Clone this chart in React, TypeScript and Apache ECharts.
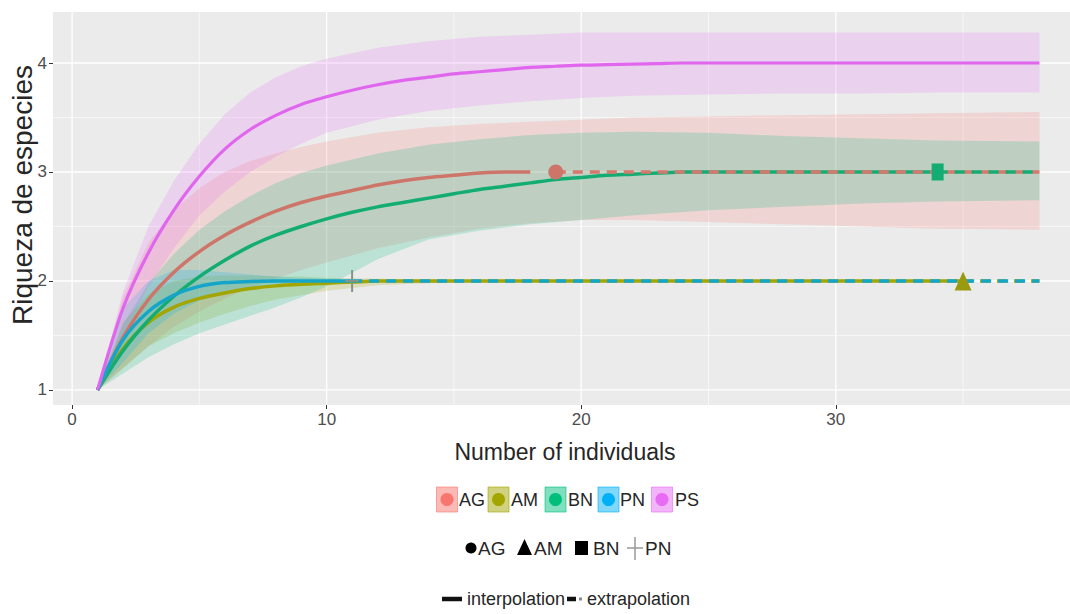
import React, { useEffect, useRef } from "react";
import * as echarts from "echarts";

const FONT = '"Liberation Sans", Arial, Helvetica, sans-serif';

// axes
const X_TICKS = [0, 10, 20, 30];
const Y_TICKS = [1, 2, 3, 4];
const X_MINOR = [5, 15, 25, 35];
const Y_MINOR = [1.5, 2.5, 3.5];

// groups
const GROUPS = ["AG", "AM", "BN", "PN", "PS"];
const FILL_COLORS = ["#F8766D", "#A3A500", "#00BF7D", "#00B0F6", "#E76BF3"];
const LINE_COLORS = ["#CD7569", "#A3A500", "#13AD73", "#14A5C8", "#E066EE"];

// interpolation curves
const AG_X = [1, 2, 3, 4, 5, 6, 7, 8, 9, 10, 11, 12, 13, 14, 15, 16, 17, 18];
const AG_Y = [1, 1.48, 1.83, 2.08, 2.27, 2.42, 2.54, 2.64, 2.72, 2.78, 2.83, 2.88, 2.92, 2.95, 2.97, 2.99, 3.0, 3.0];
const AM_X = [1, 2, 3, 4, 5, 6, 7, 8, 9, 10, 11, 12, 35];
const AM_Y = [1, 1.38, 1.62, 1.76, 1.84, 1.89, 1.93, 1.955, 1.97, 1.98, 1.99, 2.0, 2.0];
const BN_X = [1, 2, 3, 4, 5, 6, 7, 8, 9, 10, 11, 12, 13, 14, 15, 16, 17, 18, 19, 20, 21, 22, 23, 24, 34];
const BN_Y = [1, 1.36, 1.64, 1.86, 2.04, 2.19, 2.32, 2.42, 2.5, 2.57, 2.63, 2.68, 2.72, 2.76, 2.8, 2.84, 2.87, 2.9, 2.93, 2.95, 2.97, 2.98, 2.99, 3.0, 3.0];
const PN_X = [1, 2, 3, 4, 5, 6, 7, 8, 9, 10, 11];
const PN_Y = [1, 1.46, 1.72, 1.87, 1.95, 1.985, 1.995, 2.0, 2.0, 2.0, 2.0];
const PS_X = [1, 2, 3, 4, 5, 6, 7, 8, 9, 10, 11, 12, 13, 14, 15, 16, 17, 18, 19, 20, 21, 22, 23, 24, 25, 38];
const PS_Y = [1, 1.75, 2.26, 2.65, 2.96, 3.21, 3.39, 3.52, 3.62, 3.69, 3.75, 3.8, 3.84, 3.87, 3.9, 3.92, 3.94, 3.96, 3.97, 3.98, 3.985, 3.99, 3.995, 4.0, 4.0, 4.0];

// extrapolation
const AG_EX = [[19, 3], [38, 3]];
const AM_EX = [[35, 2], [38, 2]];
const BN_EX = [[34, 3], [38, 3]];
const PN_EX = [[11, 2], [38, 2]];

// observed points
const AG_OBS = [19, 3];
const AM_OBS = [35, 2];
const BN_OBS = [34, 3];
const PN_OBS = [11, 2];

// confidence bands
const BAND_X = [1, 2, 3, 4, 5, 6, 7, 8, 9, 10, 12, 14, 16, 18, 20, 22, 25, 28, 31, 34, 38];
const AG_LO = [1, 1.2, 1.4, 1.58, 1.72, 1.84, 1.94, 2.02, 2.1, 2.17, 2.3, 2.4, 2.48, 2.53, 2.56, 2.56, 2.54, 2.52, 2.5, 2.48, 2.47];
const AG_HI = [1, 1.85, 2.35, 2.65, 2.85, 3.0, 3.1, 3.17, 3.23, 3.28, 3.36, 3.41, 3.44, 3.46, 3.48, 3.5, 3.51, 3.52, 3.53, 3.54, 3.55];
const AM_LO = [1, 1.2, 1.4, 1.52, 1.62, 1.7, 1.77, 1.83, 1.87, 1.91, 1.96, 1.98, 1.99, 2.0, 2.0, 2.0, 2.0, 2.0, 2.0, 2.0, 2.0];
const AM_HI = [1, 1.62, 1.88, 2.0, 2.04, 2.05, 2.05, 2.04, 2.04, 2.03, 2.02, 2.01, 2.0, 2.0, 2.0, 2.0, 2.0, 2.0, 2.0, 2.0, 2.0];
const BN_LO = [1, 1.15, 1.3, 1.42, 1.52, 1.6, 1.68, 1.76, 1.85, 1.95, 2.2, 2.38, 2.46, 2.52, 2.56, 2.6, 2.65, 2.68, 2.71, 2.73, 2.74];
const BN_HI = [1, 1.6, 1.98, 2.25, 2.47, 2.64, 2.78, 2.9, 2.99, 3.06, 3.17, 3.25, 3.3, 3.34, 3.36, 3.37, 3.36, 3.33, 3.31, 3.29, 3.28];
const PN_LO = [1, 1.25, 1.52, 1.7, 1.82, 1.9, 1.94, 1.97, 1.98, 1.99, 2.0, 2.0, 2.0, 2.0, 2.0, 2.0, 2.0, 2.0, 2.0, 2.0, 2.0];
const PN_HI = [1, 1.75, 2.0, 2.1, 2.1, 2.08, 2.06, 2.04, 2.03, 2.02, 2.01, 2.0, 2.0, 2.0, 2.0, 2.0, 2.0, 2.0, 2.0, 2.0, 2.0];
const PS_LO = [1, 1.5, 1.95, 2.3, 2.6, 2.82, 3.0, 3.14, 3.26, 3.36, 3.48, 3.56, 3.61, 3.65, 3.68, 3.7, 3.71, 3.72, 3.72, 3.73, 3.73];
const PS_HI = [1, 1.9, 2.5, 2.92, 3.26, 3.53, 3.73, 3.87, 3.97, 4.04, 4.14, 4.2, 4.24, 4.26, 4.28, 4.28, 4.28, 4.28, 4.28, 4.28, 4.28];

function rgba(hex: string, a: number) {
  const n = parseInt(hex.slice(1), 16);
  return `rgba(${(n >> 16) & 255},${(n >> 8) & 255},${n & 255},${a})`;
}

function zip(xs: number[], ys: number[]) {
  return xs.map((x, i) => [x, ys[i]]);
}

function band(lo: number[], hi: number[], color: string) {
  return {
    type: "custom",
    silent: true,
    z: 1,
    data: [[BAND_X[0], lo[0]]],
    renderItem: (_p: any, api: any) => {
      const pts: number[][] = [];
      for (let i = 0; i < BAND_X.length; i++) pts.push(api.coord([BAND_X[i], hi[i]]));
      for (let i = BAND_X.length - 1; i >= 0; i--) pts.push(api.coord([BAND_X[i], lo[i]]));
      return { type: "polygon", shape: { points: pts }, style: { fill: rgba(color, 0.2) } };
    },
  };
}

function gridLines(vals: number[], vertical: boolean, width: number) {
  return {
    type: "custom",
    silent: true,
    z: 0,
    data: vals.map((v) => (vertical ? [v, 1] : [1, v])),
    renderItem: (params: any, api: any) => {
      const cs = params.coordSys;
      const p = api.coord([api.value(0), api.value(1)]);
      const shape = vertical
        ? { x1: p[0], y1: cs.y, x2: p[0], y2: cs.y + cs.height }
        : { x1: cs.x, y1: p[1], x2: cs.x + cs.width, y2: p[1] };
      return { type: "line", shape, style: { stroke: "#FFFFFF", lineWidth: width } };
    },
  };
}

function solid(xs: number[], ys: number[], color: string, width = 3.5) {
  return {
    type: "line",
    data: zip(xs, ys),
    smooth: 0.3,
    showSymbol: false,
    silent: true,
    z: 2,
    lineStyle: { color, width },
  };
}

function dashed(pts: number[][], color: string) {
  return {
    type: "line",
    data: pts,
    showSymbol: false,
    silent: true,
    z: 3,
    lineStyle: { color, width: 3.5, type: [10, 7] },
  };
}

function marker(pt: number[], symbol: string, size: any, color: string) {
  return {
    type: "scatter",
    data: [pt],
    symbol,
    symbolSize: size,
    silent: true,
    z: 4,
    itemStyle: { color, opacity: 1 },
  };
}

function txt(text: string, x: number, y: number, size: number, extra: any = {}) {
  return {
    type: "text",
    x,
    y,
    silent: true,
    ...extra,
    style: {
      text,
      x: 0,
      y: 0,
      font: `${size}px ${FONT}`,
      fill: "#262626",
      align: extra.align || "left",
      textAlign: extra.align || "left",
      verticalAlign: "middle",
      textVerticalAlign: "middle",
    },
  };
}

const KEY_CX = [447, 498.5, 555.5, 608.5, 662];
const KEY_TX = [459, 511, 568, 620, 675];

export default function App() {
  const ref = useRef<HTMLDivElement>(null);
  useEffect(() => {
    document.body.style.margin = "0";
    const chart = echarts.init(ref.current!, null, { renderer: "svg" });
    const graphic: any[] = [];
    // axis titles
    graphic.push(txt("Number of individuals", 565, 452, 23, { align: "center" }));
    graphic.push(txt("Riqueza de especies", 22, 195, 28, { align: "center", rotation: Math.PI / 2 }));
    // legend row 1
    GROUPS.forEach((g, i) => {
      graphic.push({
        type: "rect",
        silent: true,
        shape: { x: KEY_CX[i] - 10.5, y: 487, width: 21, height: 25 },
        style: { fill: rgba(FILL_COLORS[i], 0.5), stroke: rgba(FILL_COLORS[i], 0.6), lineWidth: 1 },
      });
      graphic.push({
        type: "circle",
        silent: true,
        shape: { cx: KEY_CX[i], cy: 499.5, r: 6.5 },
        style: { fill: FILL_COLORS[i] },
      });
      graphic.push(txt(g, KEY_TX[i], 500, 18));
    });
    // legend row 2
    graphic.push({ type: "circle", silent: true, shape: { cx: 471, cy: 548, r: 5.5 }, style: { fill: "#000" } });
    graphic.push(txt("AG", 478, 548, 19));
    graphic.push({
      type: "polygon",
      silent: true,
      shape: { points: [[517, 555], [524.5, 539], [532, 555]] },
      style: { fill: "#000" },
    });
    graphic.push(txt("AM", 534, 548, 19));
    graphic.push({ type: "rect", silent: true, shape: { x: 575, y: 541, width: 13, height: 14 }, style: { fill: "#000" } });
    graphic.push(txt("BN", 593, 548, 19));
    graphic.push({ type: "line", silent: true, shape: { x1: 635, y1: 537, x2: 635, y2: 560 }, style: { stroke: "#999", lineWidth: 1.5 } });
    graphic.push({ type: "line", silent: true, shape: { x1: 627, y1: 548, x2: 643, y2: 548 }, style: { stroke: "#999", lineWidth: 1.5 } });
    graphic.push(txt("PN", 645, 548, 19));
    // legend row 3
    graphic.push({ type: "line", silent: true, shape: { x1: 442, y1: 599, x2: 462, y2: 599 }, style: { stroke: "#111", lineWidth: 4.5 } });
    graphic.push(txt("interpolation", 467, 599, 18));
    graphic.push({ type: "line", silent: true, shape: { x1: 567, y1: 599, x2: 576, y2: 599 }, style: { stroke: "#111", lineWidth: 4.5 } });
    graphic.push({ type: "rect", silent: true, shape: { x: 579, y: 597.5, width: 3, height: 3 }, style: { fill: "#888" } });
    graphic.push(txt("extrapolation", 587, 599, 18));

    const plus = "path://M6,0H8V10H14V12H8V22H6V12H0V10H6Z";

    chart.setOption({
      animation: false,
      backgroundColor: "#FFFFFF",
      grid: {
        left: 53,
        right: 0,
        top: 12,
        bottom: 209,
        show: true,
        backgroundColor: "#EBEBEB",
        borderWidth: 0,
        containLabel: false,
      },
      xAxis: {
        type: "value",
        min: -0.75,
        max: 39.2,
        splitLine: { show: false },
        axisLine: { show: false, onZero: false },
        axisTick: { show: true, length: 4, customValues: X_TICKS, lineStyle: { color: "#333" } },
        axisLabel: { customValues: X_TICKS, color: "#4D4D4D", fontSize: 17, margin: 6, fontFamily: FONT },
      },
      yAxis: {
        type: "value",
        min: 0.862,
        max: 4.468,
        splitLine: { show: false },
        axisLine: { show: false, onZero: false },
        axisTick: { show: true, length: 4, customValues: Y_TICKS, lineStyle: { color: "#333" } },
        axisLabel: { customValues: Y_TICKS, color: "#4D4D4D", fontSize: 17, margin: 6, fontFamily: FONT },
      },
      graphic,
      series: [
        gridLines(X_MINOR, true, 0.6),
        gridLines(Y_MINOR, false, 0.6),
        gridLines(X_TICKS, true, 1.3),
        gridLines(Y_TICKS, false, 1.3),
        band(AG_LO, AG_HI, FILL_COLORS[0]),
        band(AM_LO, AM_HI, FILL_COLORS[1]),
        band(BN_LO, BN_HI, FILL_COLORS[2]),
        band(PN_LO, PN_HI, FILL_COLORS[3]),
        band(PS_LO, PS_HI, FILL_COLORS[4]),
        solid(AM_X, AM_Y, LINE_COLORS[1]),
        solid(BN_X, BN_Y, LINE_COLORS[2]),
        solid(AG_X, AG_Y, LINE_COLORS[0]),
        solid(PN_X, PN_Y, LINE_COLORS[3]),
        solid(PS_X, PS_Y, LINE_COLORS[4], 3.2),
        dashed(AG_EX, "#D5786E"),
        dashed(AM_EX, LINE_COLORS[1]),
        dashed(BN_EX, LINE_COLORS[2]),
        dashed(PN_EX, LINE_COLORS[3]),
        marker(AG_OBS, "circle", 15, LINE_COLORS[0]),
        marker(BN_OBS, "rect", [12, 17], LINE_COLORS[2]),
        marker(AM_OBS, "triangle", [17, 19], "#9A9A10"),
        marker(PN_OBS, plus, [14, 22], "#7F968A"),
      ],
    });
    return () => chart.dispose();
  }, []);
  return (
    <div
      ref={ref}
      style={{ position: "absolute", left: 0, top: 0, width: 1070, height: 614 }}
    />
  );
}
